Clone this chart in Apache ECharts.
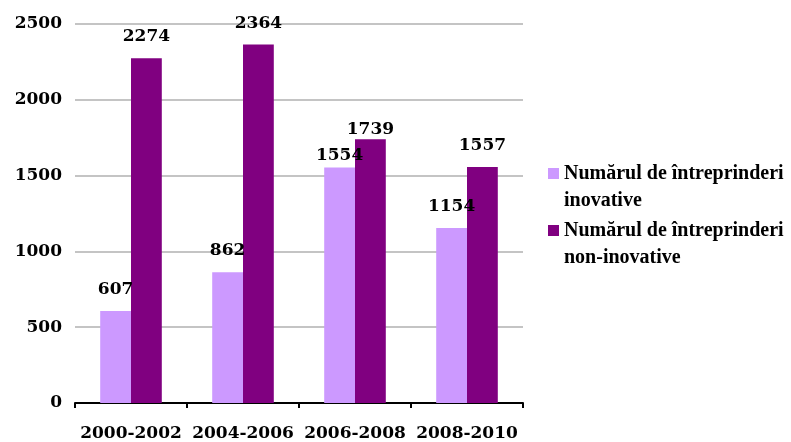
<!DOCTYPE html>
<html>
<head>
<meta charset="utf-8">
<script src="https://cdn.jsdelivr.net/npm/echarts@6/dist/echarts.min.js"></script>
<style>html,body{margin:0;padding:0;background:#fff}#c{width:791px;height:442px}</style>
</head>
<body>
<div id="c"></div>
<script>
var categories = ['2000-2002', '2004-2006', '2006-2008', '2008-2010'];
var seriesNames = ['Numărul de întreprinderi\ninovative', 'Numărul de întreprinderi\nnon-inovative'];
var inovative = [607, 862, 1554, 1154];
var nonInovative = [2274, 2364, 1739, 1557];
var labelDistInov = [13, 13, 3, 13];
var labelDistNon = [13, 13, 1, 13];
var yTicks = [0, 500, 1000, 1500, 2000, 2500];

var FONT = 'DejaVu Serif';
function items(vals, dists) {
  return vals.map(function (v, i) { return { value: v, label: { distance: dists[i] } }; });
}
var chart = echarts.init(document.getElementById('c'));
chart.setOption({
  animation: false,
  backgroundColor: '#fff',
  grid: { left: 75, right: 268, top: 24, bottom: 39, containLabel: false },
  legend: {
    orient: 'vertical', left: 543, top: 128,
    icon: 'rect', itemWidth: 11, itemHeight: 11, itemGap: -24,
    data: seriesNames,
    formatter: function (name) { return '\n' + name; },
    textStyle: { fontFamily: 'Liberation Serif', fontWeight: 'bold', fontSize: 20, color: '#000', lineHeight: 27 }
  },
  xAxis: {
    type: 'category', data: categories,
    axisLine: { lineStyle: { color: '#000', width: 2 } },
    axisTick: { show: true, length: 5, lineStyle: { color: '#000', width: 2 } },
    axisLabel: { interval: 0, color: '#000', fontFamily: FONT, fontWeight: 'bold', fontSize: 17, margin: 22 }
  },
  yAxis: {
    type: 'value', min: yTicks[0], max: yTicks[yTicks.length - 1], interval: 500,
    axisLine: { show: false }, axisTick: { show: false },
    splitLine: { lineStyle: { color: '#c4c4c4', width: 2 } },
    axisLabel: { color: '#000', fontFamily: FONT, fontWeight: 'bold', fontSize: 17, margin: 13,
      formatter: function (v) { return String(v); } }
  },
  series: [
    {
      name: seriesNames[0], type: 'bar', data: items(inovative, labelDistInov),
      itemStyle: { color: '#CC99FF' }, barGap: '0%', barCategoryGap: '45%',
      label: { show: true, position: 'top', color: '#000', fontFamily: FONT, fontWeight: 'bold', fontSize: 17 }
    },
    {
      name: seriesNames[1], type: 'bar', data: items(nonInovative, labelDistNon),
      itemStyle: { color: '#800080' }, barGap: '0%', barCategoryGap: '45%',
      label: { show: true, position: 'top', color: '#000', fontFamily: FONT, fontWeight: 'bold', fontSize: 17 }
    }
  ]
});
</script>
</body>
</html>
